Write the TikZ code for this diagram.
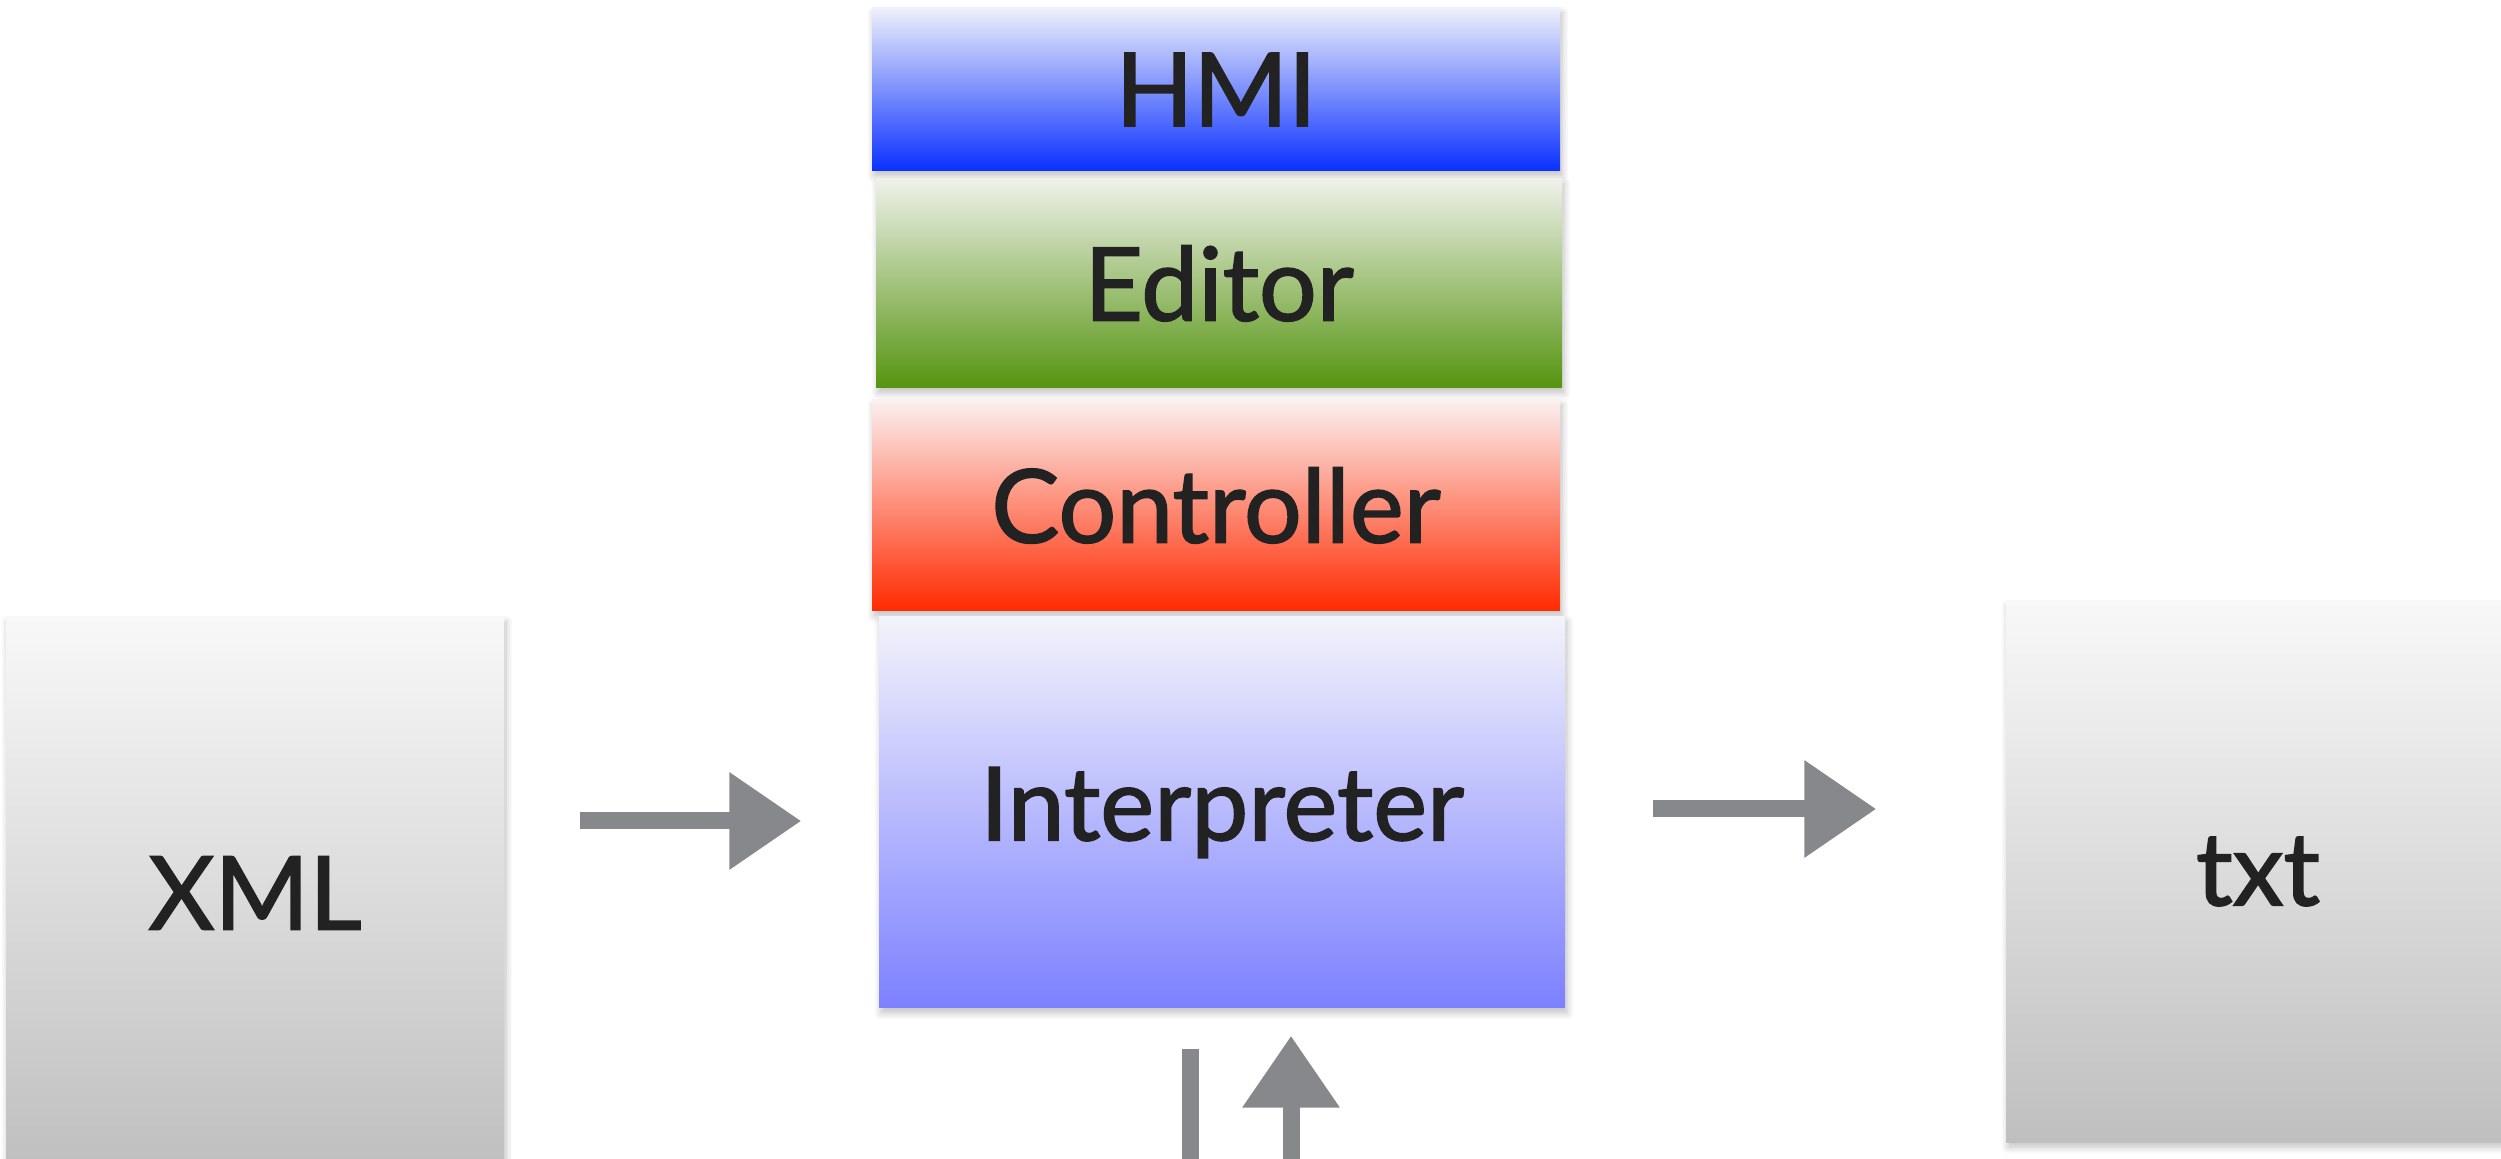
\documentclass[tikz,border=0pt]{standalone}
\usepackage{fontspec}
\setmainfont{Lato}[BoldFont=Lato, BoldFeatures={FakeBold=1.6}]
\usetikzlibrary{arrows.meta,calc,shadows.blur}
\definecolor{hmitop}{HTML}{EEF0FA}
\definecolor{hmibot}{HTML}{0A30FF}
\definecolor{edtop}{HTML}{EFF1EA}
\definecolor{edbot}{HTML}{559410}
\definecolor{cttop}{HTML}{FBF0F0}
\definecolor{ctbot}{HTML}{FF2A00}
\definecolor{intop}{HTML}{F3F3FB}
\definecolor{inbot}{HTML}{7C80FF}
\definecolor{grtop}{HTML}{F8F8F8}
\definecolor{grbot}{HTML}{BFBFBF}
\definecolor{chalk}{HTML}{86888C}
\definecolor{ink}{HTML}{222222}
\begin{document}
\begin{tikzpicture}[
    layer/.style={inner sep=0pt, text=ink,
      font=\fontsize{29}{34}\selectfont\bfseries,
      blur shadow={shadow xshift=0.02cm, shadow yshift=-0.05cm,
        shadow blur steps=8, shadow opacity=25}},
    chalkline/.style={draw=chalk, line width=0.17cm},
    chalkarrow/.style={chalkline, -{Triangle[length=0.72cm, width=0.93cm]}}
  ]
  \useasboundingbox (0,0) rectangle (25.01,11.58);
  % the stack
  \node[layer, minimum width=6.88cm, minimum height=1.63cm,
    top color=hmitop, bottom color=hmibot] (hmi) at (12.16,10.685) {HMI};
  \node[layer, minimum width=6.86cm, minimum height=2.09cm,
    top color=edtop, bottom color=edbot] (editor) at (12.19,8.745) {Editor};
  \node[layer, minimum width=6.88cm, minimum height=2.11cm,
    top color=cttop, bottom color=ctbot] (controller) at (12.16,6.525) {Controller};
  \node[layer, minimum width=6.86cm, minimum height=3.91cm,
    top color=intop, bottom color=inbot] (interp) at (12.22,3.455) {Interpreter};
  % input and output
  \node[layer, minimum width=4.98cm, minimum height=5.52cm,
    top color=grtop, bottom color=grbot] (xml) at (2.55,2.65) {XML};
  \node[layer, minimum width=5.04cm, minimum height=5.41cm,
    top color=grtop, bottom color=grbot] (txt) at (22.58,2.865) {txt};
  % arrows
  \draw[chalkarrow, shorten <=0.75cm, shorten >=0.77cm]
    ($(xml.east |- interp.west)+(0,-0.085)$) -- ($(interp.west)+(0,-0.085)$);
  \draw[chalkarrow, shorten <=0.87cm, shorten >=1.29cm]
    ($(interp.east)+(0,0.035)$) -- ($(txt.west |- interp.east)+(0,0.035)$);
  \draw[chalkline]
    ($(interp.south)+(-0.32,-0.40)$) -- ($(interp.south)+(-0.32,-3.6)$);
  \draw[chalkarrow]
    ($(interp.south)+(0.69,-3.6)$) -- ($(interp.south)+(0.69,-0.27)$);
\end{tikzpicture}
\end{document}
